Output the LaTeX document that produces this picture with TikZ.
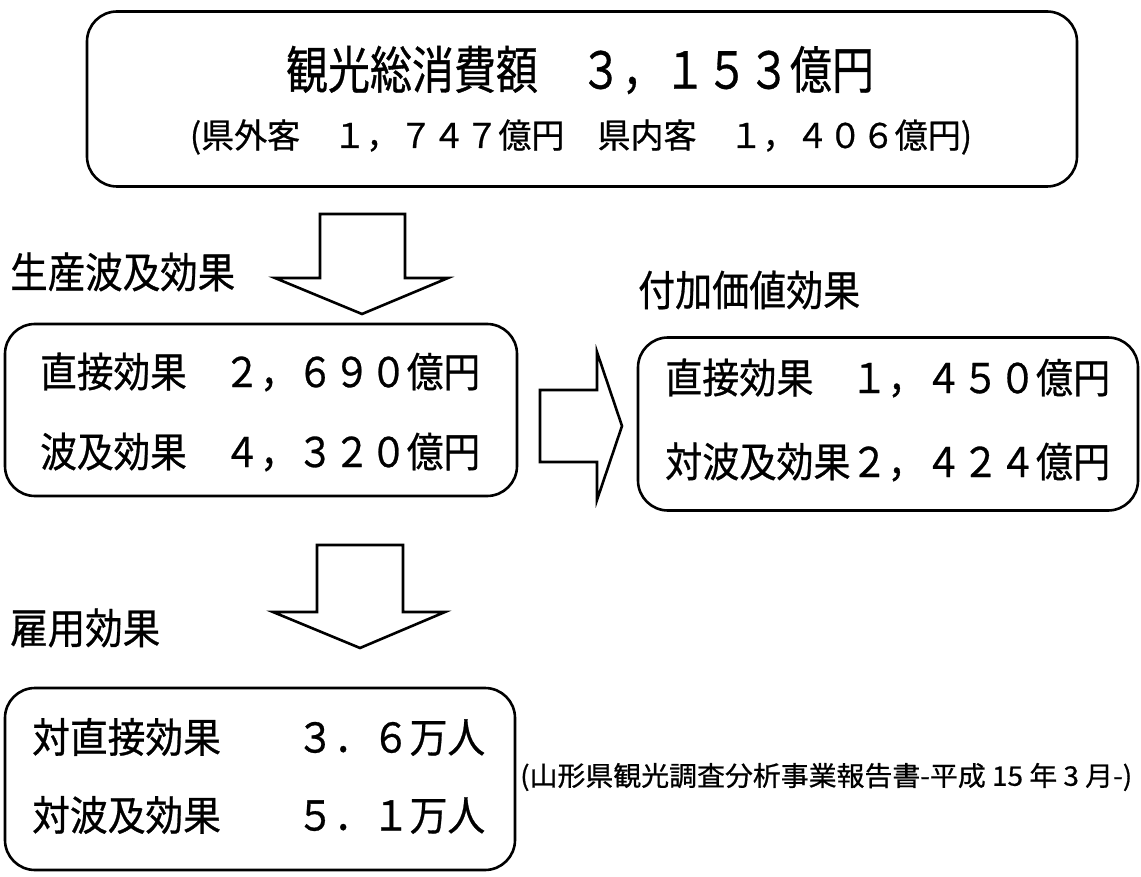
\documentclass[tikz,border=0pt]{standalone}
\usepackage{fontspec}
\usepackage{graphicx}
\usetikzlibrary{calc}
\setmainfont{Noto Sans CJK JP}[FakeBold=0.7]
\newcommand{\fitw}[3]{\resizebox{#1}{\height}{\fontsize{#2}{#2}\selectfont #3}}
\tikzset{
  rbox/.style={draw, line width=2.6pt, rounded corners=30pt, inner sep=0pt},
  blockarrow/.style={draw, line width=2.6pt, line join=miter, fill=white},
  txt/.style={inner sep=0pt, anchor=center},
  lbl/.style={inner sep=0pt, anchor=west}
}
\begin{document}
\begin{tikzpicture}[x=1pt,y=-1pt]
\useasboundingbox[fill=white] (0,0) rectangle (1141,877);

% top box
\node[rbox, minimum width=990pt, minimum height=175pt] (top) at (582,99) {};
\node[txt] (title) at (580,70) {\fitw{588pt}{51}{観光総消費額　３，１５３億円}};
\node[txt] (sub) at (581,137) {\fitw{782pt}{34}{(県外客　１，７４７億円　県内客　１，４０６億円)}};

% arrow 1 (down)
\coordinate (a1) at (362,214);
\draw[blockarrow] ($(a1)+(-42,0)$) -- ($(a1)+(43,0)$) -- ($(a1)+(43,64)$) -- ($(a1)+(86,64)$)
   -- ($(a1)+(0,100)$) -- ($(a1)+(-87,64)$) -- ($(a1)+(-42,64)$) -- cycle;
\node[lbl] (l1) at (10,272) {\fitw{225pt}{42}{生産波及効果}};
\node[lbl] (l2) at (638,290) {\fitw{222pt}{42}{付加価値効果}};

% box 2
\node[rbox, minimum width=512pt, minimum height=172pt] (b2) at (261,410) {};
\node[lbl] (b2r1) at (40,372) {\fitw{440pt}{41}{直接効果　２，６９０億円}};
\node[lbl] (b2r2) at (40,452) {\fitw{440pt}{41}{波及効果　４，３２０億円}};

% arrow right
\coordinate (a3) at (540,426);
\draw[blockarrow] ($(a3)+(0,-36)$) -- ($(a3)+(57,-36)$) -- ($(a3)+(57,-74)$) -- ($(a3)+(82,0)$)
   -- ($(a3)+(57,74)$) -- ($(a3)+(57,36)$) -- ($(a3)+(0,36)$) -- cycle;

% box 3
\node[rbox, minimum width=500pt, minimum height=173pt] (b3) at (888,424) {};
\node[lbl] (b3r1) at (665,378) {\fitw{445pt}{41}{直接効果　１，４５０億円}};
\node[lbl] (b3r2) at (665,462) {\fitw{445pt}{41}{対波及効果２，４２４億円}};

% arrow 2 (down)
\coordinate (a2) at (360,545);
\draw[blockarrow] ($(a2)+(-43,0)$) -- ($(a2)+(43,0)$) -- ($(a2)+(43,67)$) -- ($(a2)+(85,67)$)
   -- ($(a2)+(0,103)$) -- ($(a2)+(-87,67)$) -- ($(a2)+(-43,67)$) -- cycle;
\node[lbl] (l3) at (10,628) {\fitw{150pt}{42}{雇用効果}};

% box 4
\node[rbox, minimum width=510pt, minimum height=182pt] (b4) at (260,779) {};
\node[lbl] (b4r1) at (32,737) {\fitw{453pt}{41}{対直接効果　　３．６万人}};
\node[lbl] (b4r2) at (32,815) {\fitw{453pt}{41}{対波及効果　　５．１万人}};

% source
\node[lbl] (src) at (520,777) {\fitw{612pt}{27}{(山形県観光調査分析事業報告書-平成 15 年 3 月-)}};
\end{tikzpicture}
\end{document}
